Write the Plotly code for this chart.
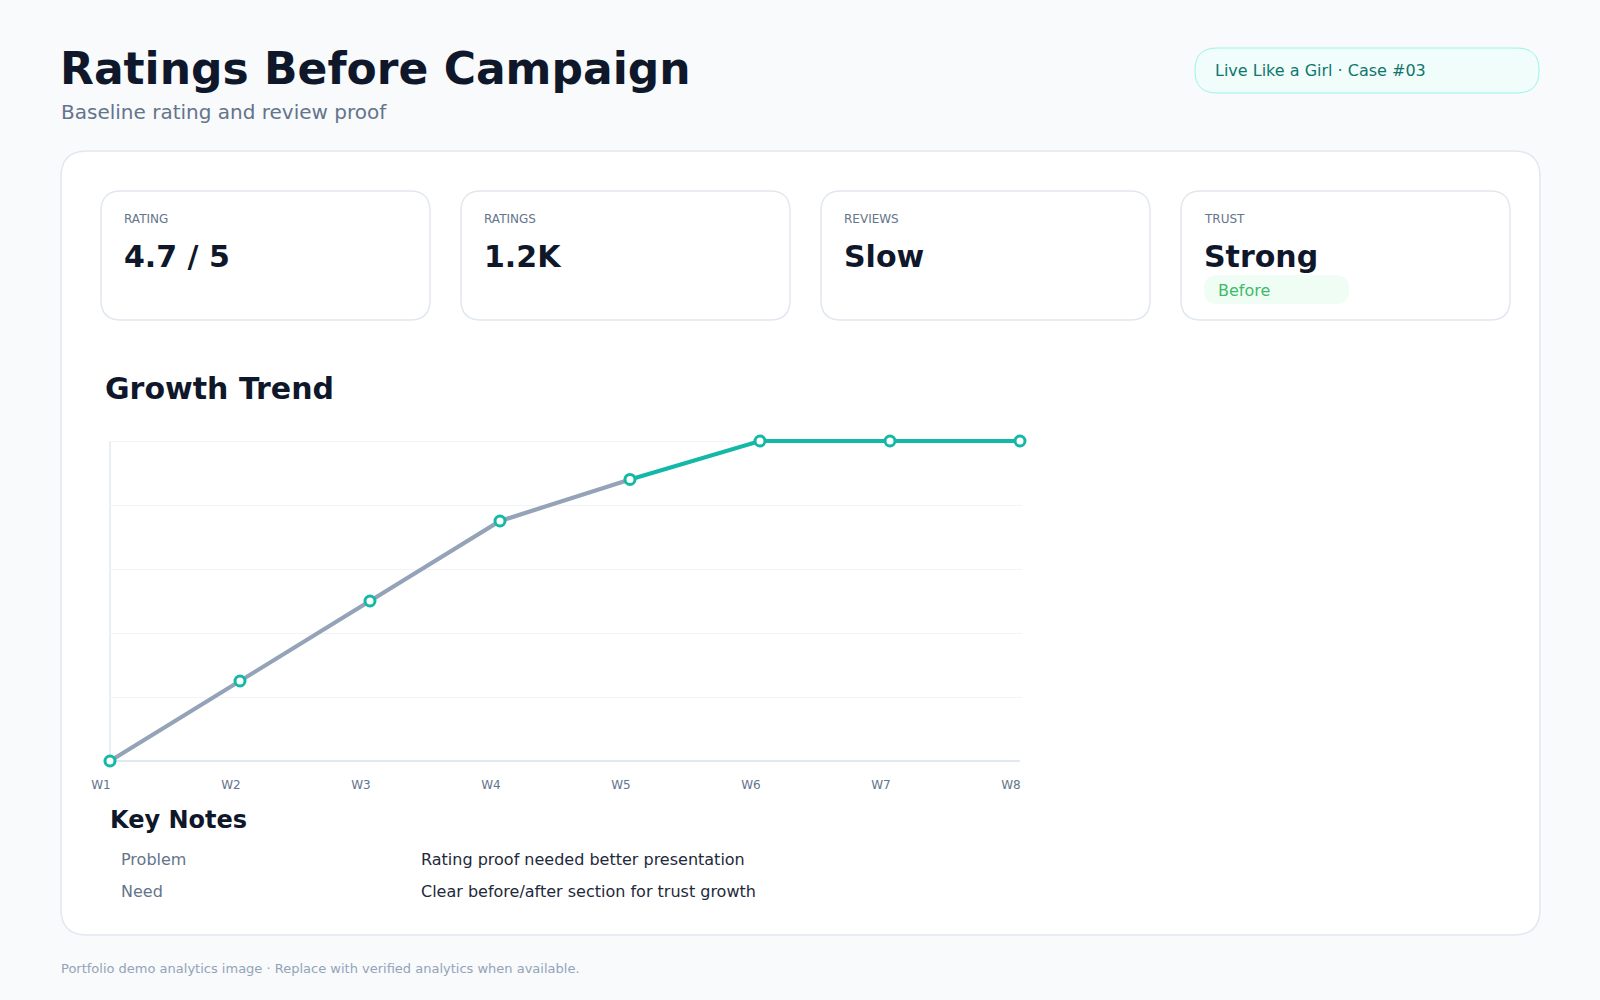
import plotly.graph_objects as go

# ---------------- data ----------------
weeks = ["W1", "W2", "W3", "W4", "W5", "W6", "W7", "W8"]
trend_values = [0, 25, 50, 75, 88, 100, 100, 100]
split_index = 4  # grey up to W5, teal afterwards

kpi_labels = ["RATING", "RATINGS", "REVIEWS", "TRUST"]
kpi_values = ["4.7 / 5", "1.2K", "Slow", "Strong"]
kpi_badge = "Before"

note_keys = ["Problem", "Need"]
note_texts = ["Rating proof needed better presentation",
              "Clear before/after section for trust growth"]

title_text = "Ratings Before Campaign"
subtitle_text = "Baseline rating and review proof"
pill_text = "Live Like a Girl · Case #03"
footer_text = "Portfolio demo analytics image · Replace with verified analytics when available."

# ---------------- helpers ----------------
W, H = 1600, 1000
FONT = "DejaVu Sans"


def px(x):
    return x / W


def py(y):
    return 1 - y / H


def rrect(x0, y0, x1, y1, r, fill, line, lw=1.5):
    pts = [
        f"M {px(x0 + r)},{py(y0)}",
        f"L {px(x1 - r)},{py(y0)}",
        f"Q {px(x1)},{py(y0)} {px(x1)},{py(y0 + r)}",
        f"L {px(x1)},{py(y1 - r)}",
        f"Q {px(x1)},{py(y1)} {px(x1 - r)},{py(y1)}",
        f"L {px(x0 + r)},{py(y1)}",
        f"Q {px(x0)},{py(y1)} {px(x0)},{py(y1 - r)}",
        f"L {px(x0)},{py(y0 + r)}",
        f"Q {px(x0)},{py(y0)} {px(x0 + r)},{py(y0)} Z",
    ]
    return dict(type="path", xref="paper", yref="paper", path=" ".join(pts),
                fillcolor=fill, line=dict(color=line, width=lw), layer="below")


def text(x, y, s, size, color, bold=False, anchor="left"):
    return dict(xref="paper", yref="paper", x=px(x), y=py(y), text=(f"<b>{s}</b>" if bold else s),
                showarrow=False, xanchor=anchor, yanchor="middle",
                font=dict(family=FONT, size=size, color=color))


shapes = []
annotations = []

# main card
shapes.append(rrect(61, 151, 1540, 935, 26, "#ffffff", "#e2e8f0", 1.5))
# pill
shapes.append(rrect(1195, 48, 1539, 93, 22, "#f0fdfa", "#99f6e4", 1))

# KPI cards
card_x = [101, 461, 821, 1181]
card_w = 329
for i, (lab, val) in enumerate(zip(kpi_labels, kpi_values)):
    x0 = card_x[i]
    shapes.append(rrect(x0, 191, x0 + card_w, 320, 20, "#ffffff", "#e2e8f0", 1.5))
    annotations.append(text(x0 + 21, 219, lab, 12, "#64748b"))
    annotations.append(text(x0 + 21, 256, val, 30, "#0f172a", bold=True))
# badge on last card
shapes.append(rrect(1204, 275, 1349, 304, 14, "#f0fdf4", "#f0fdf4", 0))
annotations.append(text(1216, 290, kpi_badge, 16, "#3dbb6a"))

# headings / text
annotations.append(text(57.5, 69, title_text, 44, "#0f172a", bold=True))
annotations.append(text(59, 112, subtitle_text, 20, "#64748b"))
annotations.append(text(1213, 70, pill_text, 16, "#0f766e"))
annotations.append(text(103, 388, "Growth Trend", 30, "#0f172a", bold=True))
annotations.append(text(108, 820, "Key Notes", 24, "#0f172a", bold=True))
for i, (k, t) in enumerate(zip(note_keys, note_texts)):
    yy = 859 + i * 32
    annotations.append(text(119, yy, k, 16, "#64748b"))
    annotations.append(text(419, yy, t, 16, "#1e293b"))
annotations.append(text(58.5, 968, footer_text, 13, "#94a3b8"))

# axis lines drawn on the data axes (left and bottom)
shapes.append(dict(type="line", xref="x", yref="y", x0=0, x1=0, y0=0, y1=100,
                   line=dict(color="#e2e8f0", width=1.5), layer="below"))
shapes.append(dict(type="line", xref="x", yref="y", x0=0, x1=7, y0=0, y1=0,
                   line=dict(color="#e2e8f0", width=2), layer="below"))

# ---------------- traces ----------------
fig = go.Figure()
fig.add_trace(go.Scatter(x=weeks[:split_index + 1], y=trend_values[:split_index + 1],
                         mode="lines", line=dict(color="#94a3b8", width=4.2),
                         hoverinfo="skip", cliponaxis=False))
fig.add_trace(go.Scatter(x=weeks[split_index:], y=trend_values[split_index:],
                         mode="lines", line=dict(color="#14b8a6", width=4.2),
                         hoverinfo="skip", cliponaxis=False))
fig.add_trace(go.Scatter(x=weeks, y=trend_values, mode="markers",
                         marker=dict(size=10, color="#ffffff",
                                     line=dict(color="#14b8a6", width=3)),
                         cliponaxis=False))

# pixel extents of the plotting frame: x 110..1020, y 441 (value 100) .. 761 (value 0)
X0, X1, Y0, Y1 = 110, 1020, 441, 761
pad_y = 8  # pixels of headroom so the lines are not clipped
pad_x = 1.5
ppu_y = (Y1 - Y0) / 100.0
ppu_x = (X1 - X0) / 7.0
fig.update_layout(
    width=W, height=H,
    margin=dict(l=0, r=0, t=0, b=0, autoexpand=False),
    paper_bgcolor="#f8fafc",
    plot_bgcolor="rgba(0,0,0,0)",
    showlegend=False,
    font=dict(family=FONT),
    shapes=shapes,
    annotations=annotations,
    xaxis=dict(domain=[px(X0 - pad_x), px(X1 + pad_x)],
               range=[-pad_x / ppu_x, 7 + pad_x / ppu_x], type="category",
               showgrid=False, zeroline=False, showline=False, automargin=False,
               tickfont=dict(family=FONT, size=12, color="#64748b"),
               ticks="", ticklabelshift=-9, ticklabelstandoff=7, fixedrange=True),
    yaxis=dict(domain=[py(Y1 + pad_y), py(Y0 - pad_y)],
               range=[-pad_y / ppu_y, 100 + pad_y / ppu_y],
               tickmode="array", tickvals=[20, 40, 60, 80, 100],
               showgrid=True, gridcolor="#f1f5f9", gridwidth=1,
               zeroline=False, showline=False, automargin=False,
               showticklabels=False, ticks="", fixedrange=True),
)

fig.write_html("out.html")
